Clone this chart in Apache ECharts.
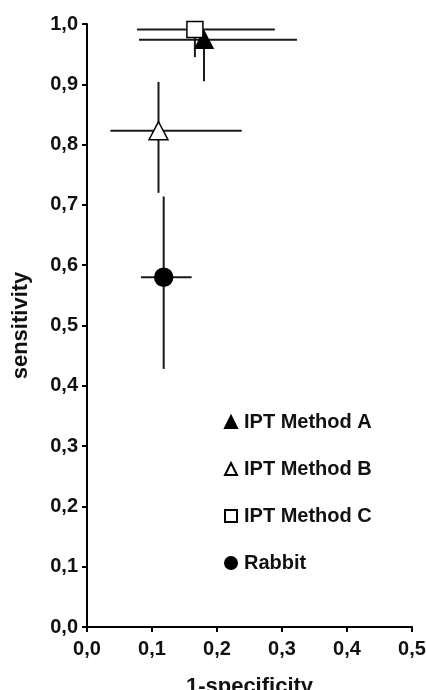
<!DOCTYPE html>
<html>
<head>
<meta charset="utf-8">
<script src="https://cdn.jsdelivr.net/npm/echarts@6/dist/echarts.min.js"></script>
<style>
html, body { margin: 0; padding: 0; background: #fff; }
#chart { width: 426px; height: 690px; }
</style>
</head>
<body>
<div id="chart"></div>
<script>
// groups and values
const groups = ['IPT Method A', 'IPT Method B', 'IPT Method C', 'Rabbit'];
const fpr = [0.180, 0.110, 0.166, 0.118];        // 1-specificity
const sens = [0.974, 0.823, 0.991, 0.580];       // sensitivity
const fprLow = [0.080, 0.036, 0.077, 0.083];
const fprHigh = [0.323, 0.238, 0.289, 0.161];
const sensLow = [0.905, 0.720, 0.945, 0.428];
const sensHigh = [0.974, 0.904, 1.000, 0.714];

const xTickLabels = ['0,0', '0,1', '0,2', '0,3', '0,4', '0,5'];
const yTickLabels = ['0,0', '0,1', '0,2', '0,3', '0,4', '0,5', '0,6', '0,7', '0,8', '0,9', '1,0'];

const symbols = ['triangle', 'triangle', 'rect', 'circle'];
const symbolSizes = [[18, 17], [19, 18], [16, 16], 18];
const fills = ['#000', '#fff', '#fff', '#000'];

const font = 'Liberation Sans, Arial, sans-serif';

var chart = echarts.init(document.getElementById('chart'), null, { renderer: 'canvas' });

var errData = [];
for (var i = 0; i < groups.length; i++) {
    errData.push([fpr[i], sens[i], fprLow[i], fprHigh[i], sensLow[i], sensHigh[i]]);
}

// cross shaped error bars, drawn under the markers
function renderErr(params, api) {
    var c = api.coord([api.value(0), api.value(1)]);
    var xl = api.coord([api.value(2), api.value(1)]);
    var xh = api.coord([api.value(3), api.value(1)]);
    var yl = api.coord([api.value(0), api.value(4)]);
    var yh = api.coord([api.value(0), api.value(5)]);
    var st = { stroke: '#1a1a1a', lineWidth: 2 };
    return {
        type: 'group',
        children: [
            { type: 'line', shape: { x1: xl[0], y1: c[1], x2: xh[0], y2: c[1] }, style: st },
            { type: 'line', shape: { x1: c[0], y1: yl[1], x2: c[0], y2: yh[1] }, style: st }
        ]
    };
}

var series = [{
    name: 'errors',
    type: 'custom',
    renderItem: renderErr,
    data: errData,
    z: 1,
    silent: true
}];

for (var i = 0; i < groups.length; i++) {
    series.push({
        name: groups[i],
        type: 'scatter',
        symbol: symbols[i],
        symbolSize: symbolSizes[i],
        data: [[fpr[i], sens[i]]],
        itemStyle: { color: fills[i], borderColor: '#000', borderWidth: 1.5, opacity: 1 },
        z: 2 + i
    });
}

var option = {
    backgroundColor: '#fff',
    animation: false,
    grid: { left: 87, right: 14, top: 24, bottom: 63, containLabel: false, outerBoundsMode: 'none' },
    legend: {
        data: groups,
        orient: 'vertical',
        left: 219,
        top: 407,
        itemWidth: 12,
        itemHeight: 12,
        itemGap: 27,
        textStyle: { fontFamily: font, fontWeight: 'bold', fontSize: 20, lineHeight: 20, color: '#111', padding: [0, 0, 0, 2] }
    },
    xAxis: {
        type: 'value',
        min: 0,
        max: 0.5,
        interval: 0.1,
        name: '1-specificity',
        nameLocation: 'middle',
        nameGap: 49,
        nameTextStyle: { fontFamily: font, fontWeight: 'bold', fontSize: 22, color: '#111' },
        axisLine: { lineStyle: { color: '#000', width: 2 } },
        axisTick: { inside: false, length: 5, lineStyle: { color: '#000', width: 2 } },
        axisLabel: {
            margin: 12,
            fontFamily: font, fontWeight: 'bold', fontSize: 20, color: '#111',
            formatter: function (v) { return xTickLabels[Math.round(v * 10)]; }
        },
        splitLine: { show: false }
    },
    yAxis: {
        type: 'value',
        min: 0,
        max: 1,
        interval: 0.1,
        name: 'sensitivity',
        nameLocation: 'middle',
        nameGap: 55,
        nameTextStyle: { fontFamily: font, fontWeight: 'bold', fontSize: 22, color: '#111' },
        axisLine: { show: true, lineStyle: { color: '#000', width: 2 } },
        axisTick: { show: true, inside: false, length: 5, lineStyle: { color: '#000', width: 2 } },
        axisLabel: {
            margin: 9,
            fontFamily: font, fontWeight: 'bold', fontSize: 20, color: '#111',
            formatter: function (v) { return yTickLabels[Math.round(v * 10)]; }
        },
        splitLine: { show: false }
    },
    series: series
};

chart.setOption(option);
</script>
</body>
</html>
